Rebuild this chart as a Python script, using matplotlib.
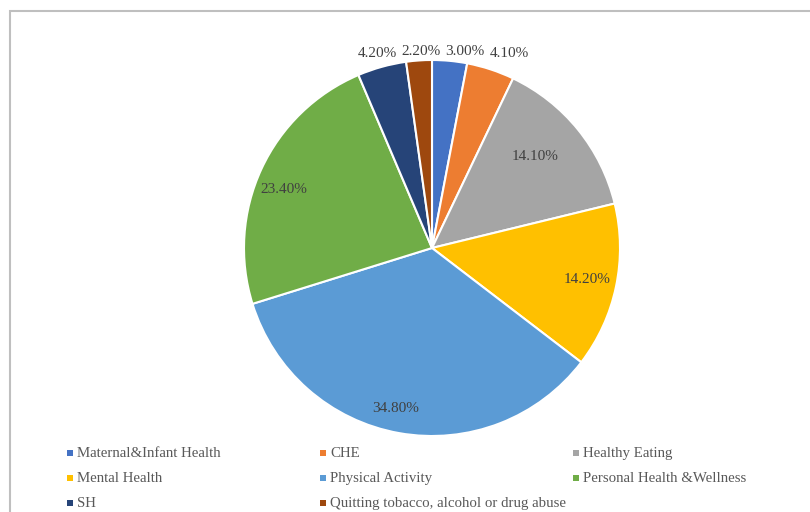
import numpy as np
import matplotlib
matplotlib.use("Agg")
import matplotlib.pyplot as plt
from matplotlib.patches import Rectangle

# Share of each topic (%), clockwise from 12 o'clock
topics = ["Maternal&Infant Health", "CHE", "Healthy Eating", "Mental Health",
          "Physical Activity", "Personal Health &Wellness", "SH",
          "Quitting tobacco, alcohol or drug abuse"]
shares = [3.00, 4.10, 14.10, 14.20, 34.80, 23.40, 4.20, 2.20]
colors = ["#4472C4", "#ED7D31", "#A5A5A5", "#FFC000",
          "#5B9BD5", "#70AD47", "#264478", "#9E480E"]
# label placement: radius (fraction of pie radius) and clockwise nudge in degrees
label_r = [1.07, 1.12, 0.74, 0.84, 0.87, 0.85, 1.08, 1.055]
label_shift = [4.0, 3.5, -3.0, -1.0, 2.8, -2.8, 0.0, 0.8]

W, H = 810, 512
fig = plt.figure(figsize=(W / 100, H / 100), dpi=100)
plt.rcParams['font.family'] = ['Liberation Serif', 'DejaVu Serif']

# chart area border (runs off the right and bottom edges)
fig.patches.append(Rectangle((10 / W, -0.05), 1.2, 1 - 11 / H + 0.05,
                             transform=fig.transFigure, fill=False,
                             edgecolor="#BFBFBF", linewidth=1.5))

cx, cy, R = 432, 248, 188
ax = fig.add_axes([(cx - R) / W, (H - cy - R) / H, 2 * R / W, 2 * R / H])
wedges, _ = ax.pie(shares, colors=colors, startangle=90, counterclock=False,
                   radius=1.0, wedgeprops=dict(edgecolor="white", linewidth=1.5))
ax.set_xlim(-1, 1)
ax.set_ylim(-1, 1)
ax.set_aspect("equal")
ax.axis("off")

for w, v, r, s in zip(wedges, shares, label_r, label_shift):
    ang = np.deg2rad((w.theta1 + w.theta2) / 2 - s)
    ax.text(r * np.cos(ang), r * np.sin(ang) - 0.008, f"{v:.2f}%",
            ha="center", va="center", fontsize=11, color="#404040")

# legend laid out row by row in three equal columns
col_x = [67, 320, 573]
row_y = [453, 478, 503]
for i, (name, c) in enumerate(zip(topics, colors)):
    x = col_x[i % 3]
    y = row_y[i // 3]
    fig.patches.append(Rectangle((x / W, (H - y - 3) / H), 6 / W, 6 / H,
                                 transform=fig.transFigure, facecolor=c,
                                 edgecolor="none"))
    fig.text((x + 10) / W, (H - y - 4) / H, name, ha="left", va="baseline",
             fontsize=10.7, color="#595959")

fig.savefig("out.png", dpi=100)
